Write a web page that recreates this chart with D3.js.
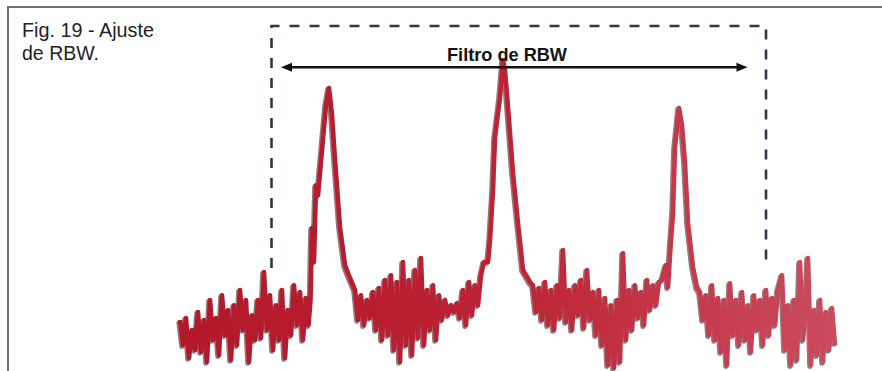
<!DOCTYPE html>
<html><head><meta charset="utf-8">
<script src="https://cdn.jsdelivr.net/npm/d3@7"></script>
<style>html,body{margin:0;padding:0;background:#fff;} svg{display:block;}</style>
</head><body>
<svg id="chart" width="882" height="371"></svg>
<script>
// ---- data ----
const freqMHz = [
 0,0.6,1.2,1.8,2.4,3.0,3.6,4.2,4.8,5.4,6.0,6.6,7.2,7.8,8.4,9.0,9.6,10.2,10.8,11.4,
 12.0,12.6,13.2,13.8,14.4,15.0,15.6,16.2,16.8,17.4,18.0,18.6,19.2,19.8,20.4,21.0,21.6,22.2,22.8,23.4,
 24.0,24.6,25.2,25.7,26.1,26.4,26.8,27.2,27.6,28.4,29.2,29.8,30.4,31.0,32.0,33.0,34.0,35.0,
 35.6,36.2,36.8,37.4,38.0,38.6,39.2,39.8,40.4,41.0,41.6,42.2,42.8,43.4,44.0,44.6,45.2,45.8,46.4,47.0,
 47.6,48.2,48.8,49.4,50.0,50.6,51.2,51.8,52.4,53.0,53.6,54.2,54.8,55.4,56.0,56.6,57.2,57.8,58.4,59.0,
 59.6,60.2,60.8,61.6,62.0,62.6,63.0,64.0,64.6,65.0,65.6,66.6,67.6,68.6,70.0,
 70.6,71.2,71.8,72.4,73.0,73.6,74.2,74.8,75.4,76.0,76.6,77.2,77.8,78.4,79.0,79.6,80.2,80.8,81.4,82.0,
 82.6,83.2,83.8,84.4,85.0,85.6,86.2,86.8,87.4,88.0,88.6,89.2,89.8,90.4,91.0,91.6,92.2,92.8,93.4,94.0,
 94.6,95.2,95.8,96.4,97.2,97.6,98.2,98.6,99.0,99.8,100.4,101.0,101.6,102.6,103.4,
 104.0,104.6,105.2,105.8,106.4,107.0,107.6,108.2,108.8,109.4,110.0,110.6,111.2,111.8,112.4,113.0,113.6,114.2,114.8,115.4,
 116.0,116.6,117.2,117.8,118.4,119.0,119.6,120.4,121.0,121.6,122.2,122.8,123.4,124.0,124.6,125.2,125.6,126.2,126.8,127.4,
 128.0,128.6,129.2,129.8,130.4,131.0
];
const levelDb = [
 -65.5,-71.8,-65,-75,-68,-73,-63.5,-73.5,-65.5,-76,-60.5,-70.5,-65,-74.3,-59.3,-69.3,-63,-75.5,-61.8,-71.8,
 -58,-68,-60.5,-76,-64.3,-70.5,-60.5,-70,-53.5,-68,-59.3,-73,-61.8,-70.5,-58,-75,-63,-69.3,-56.8,-66.8,
 -58.5,-70.5,-60,-66.8,-60.5,-42.5,-51,-31.8,-34.3,-23,-11.8,-7.5,-14.3,-25.5,-42.3,-51.8,-55,-58,
 -65.5,-59.3,-66.8,-60.5,-65,-58.5,-68,-57.5,-70.5,-55.5,-69.3,-54.3,-73,-56,-76,-51,-71.8,-55.5,-74.3,-53,
 -70,-50,-71.8,-58,-68,-56.8,-70.5,-59.3,-65.5,-60.5,-64.3,-61.8,-63.5,-61.3,-65,-58,-66.8,-56,-64.3,-56.8,
 -61.8,-54.3,-51,-51,-45.5,-33,-19.8,-9.8,-0.5,-3,-12.3,-28.8,-41.3,-53,-56,
 -56.8,-63.5,-57.5,-65.5,-56,-66.8,-58,-68,-56.8,-65,-48,-66,-58,-68,-56.8,-64.3,-55.5,-67.5,-53,-65.5,
 -58.5,-69.3,-58,-71.8,-60,-76.8,-61.8,-77.5,-60.5,-76,-48.8,-70.5,-58,-68,-56.8,-65,-58.5,-66.8,-55.5,-63,
 -56.8,-61.8,-56,-55.5,-51.8,-57.3,-45.5,-38.8,-22.3,-12.5,-16.8,-26.3,-41.3,-52.3,-57.3,
 -58.5,-65.5,-59.3,-69.3,-56.8,-70.5,-60,-73.5,-60.5,-76.8,-56.3,-69.3,-60.5,-71.8,-58.5,-70.5,-61.8,-73.5,-59.3,-68,
 -60.5,-71.8,-58,-69.3,-60,-66.8,-58,-54.3,-73,-61.8,-76.8,-60.5,-75.5,-51,-70.5,-61.8,-50,-76.8,-63,-74.3,
 -60.5,-76,-63.5,-73,-62.5,-71.8
];
const captionLines = ["Fig. 19 - Ajuste", "de RBW."];
const rbwLabel = "Filtro de RBW";
const rbwArrow = [20.2, 113.5];   // MHz, filter span shown by arrow
const rbwBox = [18.3, 117.2];     // MHz, dashed window edges
const boxTopDb = 8, boxBottomDb = [-52.5, -52], arrowDb = -2.3, labelDb = -0.8;

// ---- drawing ----
const svg = d3.select("#chart");
const x = d3.scaleLinear().domain([0, 131]).range([180, 835]);
const y = d3.scaleLinear().domain([-80, 0]).range([378, 58]);

// frame
svg.append("path").attr("d", "M8,371V7H882").attr("fill", "none")
  .attr("stroke", "#707070").attr("stroke-width", 2);

// caption
const cap = svg.append("g").attr("font-family", "'Liberation Sans Narrow', 'Liberation Sans', Arial, sans-serif")
  .attr("font-size", 20).attr("fill", "#222");
cap.append("text").attr("x", 22).attr("y", 37).attr("textLength", 132)
  .attr("lengthAdjust", "spacingAndGlyphs").text(captionLines[0]);
cap.append("text").attr("x", 22).attr("y", 59.5).attr("textLength", 77)
  .attr("lengthAdjust", "spacingAndGlyphs").text(captionLines[1]);

// gradient for trace
const defs = svg.append("defs");
const grad = defs.append("linearGradient").attr("id", "tr").attr("gradientUnits", "userSpaceOnUse")
  .attr("x1", x(0)).attr("x2", x(131)).attr("y1", 0).attr("y2", 0);
grad.append("stop").attr("offset", 0).attr("stop-color", "#b3172a");
grad.append("stop").attr("offset", 0.5).attr("stop-color", "#bd2334");
grad.append("stop").attr("offset", 1).attr("stop-color", "#cc4b5e");

const pts = freqMHz.map((f, i) => [f, levelDb[i]]);
const line = d3.line().x(d => x(d[0])).y(d => y(d[1]));

svg.append("path").datum(pts).attr("d", line).attr("fill", "none")
  .attr("stroke", "#4a2226").attr("stroke-opacity", 0.6).attr("stroke-width", 5)
  .attr("stroke-linejoin", "round").attr("transform", "translate(-1.3,1.3)");
svg.append("path").datum(pts).attr("d", line).attr("fill", "none")
  .attr("stroke", "url(#tr)").attr("stroke-width", 4.6).attr("stroke-linejoin", "round");

// dashed RBW window
const boxPath = d3.path();
boxPath.moveTo(x(rbwBox[0]), y(boxBottomDb[0]));
boxPath.lineTo(x(rbwBox[0]), y(boxTopDb));
boxPath.lineTo(x(rbwBox[1]), y(boxTopDb));
boxPath.lineTo(x(rbwBox[1]), y(boxBottomDb[1]));
svg.append("path").attr("d", boxPath.toString()).attr("fill", "none")
  .attr("stroke", "#2f3749").attr("stroke-width", 2.6).attr("stroke-dasharray", "10,10");

// arrow
const ay = y(arrowDb), ax0 = x(rbwArrow[0]), ax1 = x(rbwArrow[1]);
svg.append("line").attr("x1", ax0 + 4).attr("x2", ax1 - 4).attr("y1", ay).attr("y2", ay)
  .attr("stroke", "#111").attr("stroke-width", 2.6);
svg.append("path").attr("d", `M${ax0},${ay}l11,-4.5v9z`).attr("fill", "#111");
svg.append("path").attr("d", `M${ax1},${ay}l-11,-4.5v9z`).attr("fill", "#111");

// label
svg.append("text").attr("x", 507).attr("y", y(labelDb)).attr("text-anchor", "middle")
  .attr("font-family", "'Liberation Sans', Arial, sans-serif").attr("font-weight", "bold")
  .attr("font-size", 18).attr("fill", "#151515")
  .attr("textLength", 120).attr("lengthAdjust", "spacingAndGlyphs").text(rbwLabel);
</script>
</body></html>
